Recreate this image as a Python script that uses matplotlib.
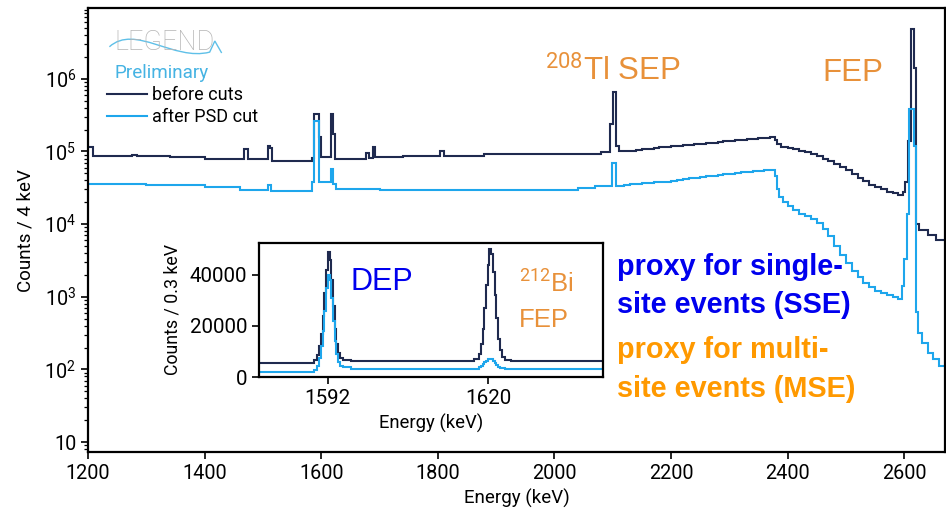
import numpy as np
import matplotlib
matplotlib.use('Agg')
import matplotlib.pyplot as plt
from matplotlib.path import Path
from matplotlib.patches import PathPatch
from matplotlib.ticker import FixedLocator, FixedFormatter, LogLocator, NullFormatter

plt.rcParams['font.family'] = ['Roboto', 'DejaVu Sans']
plt.rcParams['mathtext.fontset'] = 'custom'
plt.rcParams['mathtext.rm'] = 'Roboto'
plt.rcParams['mathtext.it'] = 'Roboto'

# ---- main spectrum (counts / 4 keV), step edges in keV ----
main_edges = [1200, 1208, 1276, 1284, 1340, 1400, 1468, 1474, 1508, 1512, 1516,
              1584, 1588, 1596, 1600, 1616, 1620, 1624, 1676, 1682, 1688, 1692,
              1740, 1804, 1810, 1880, 1980, 2080, 2096, 2100, 2106, 2110,
              2120, 2130, 2140, 2150, 2160, 2170, 2180, 2190, 2200, 2210, 2220,
              2230, 2240, 2250, 2260, 2270, 2280, 2290, 2300, 2310, 2320, 2330,
              2340, 2350, 2360, 2370, 2378, 2382, 2388, 2400, 2410, 2420, 2430,
              2440, 2450, 2460, 2470, 2480, 2490, 2500, 2510, 2520, 2530, 2540,
              2550, 2560, 2570, 2580, 2590, 2598, 2602, 2606, 2612, 2616, 2620,
              2626, 2640, 2655, 2670]
before_cuts = [1.15e5, 8.7e4, 9.0e4, 8.6e4, 8.4e4, 8.0e4, 1.07e5, 7.9e4, 1.2e5, 1.1e5,
               7.5e4, 8.1e4, 3.3e5, 1.57e5, 8.4e4, 3.3e5, 1.75e5, 8.0e4, 9.6e4, 8.2e4,
               1.15e5, 8.4e4, 8.6e4, 1.03e5, 8.8e4, 9.1e4, 9.3e4, 9.8e4, 2.4e5, 6.5e5,
               1.2e5,
               1.01e5, 1.02e5, 1.03e5, 1.05e5, 1.07e5, 1.09e5, 1.11e5, 1.14e5, 1.16e5,
               1.18e5, 1.20e5, 1.22e5, 1.24e5, 1.26e5, 1.28e5, 1.31e5, 1.33e5, 1.36e5,
               1.38e5, 1.41e5, 1.43e5, 1.46e5, 1.48e5, 1.50e5, 1.53e5, 1.55e5, 1.56e5,
               1.45e5, 1.25e5, 1.17e5, 1.12e5, 1.08e5, 1.03e5, 9.8e4, 9.2e4, 8.6e4,
               8.0e4, 7.4e4, 6.8e4, 6.1e4, 5.5e4, 4.9e4, 4.3e4, 3.9e4, 3.5e4, 3.2e4,
               3.0e4, 2.8e4, 2.65e4, 2.55e4, 2.8e4, 3.8e4, 1.4e5, 4.9e6, 1.43e6, 1.0e4,
               8.2e3, 7.0e3, 6.0e3]

light_edges = [1200, 1300, 1400, 1460, 1508, 1514, 1584, 1588, 1596, 1616, 1620,
               1626, 1700, 2040, 2070, 2098, 2106,
               2120, 2130, 2140, 2150, 2160, 2170, 2180, 2190, 2200, 2210, 2220,
               2230, 2240, 2250, 2260, 2270, 2280, 2290, 2300, 2310, 2320, 2330,
               2340, 2350, 2360, 2370, 2378, 2382, 2386, 2392, 2400, 2410, 2420,
               2430, 2440, 2450, 2460, 2470, 2480, 2490, 2500, 2510, 2520, 2530,
               2540, 2550, 2560, 2570, 2580, 2590, 2596, 2600, 2604, 2608, 2616,
               2620, 2624, 2630, 2640, 2650, 2660, 2670]
after_psd = [3.6e4, 3.45e4, 3.25e4, 2.95e4, 3.5e4, 2.85e4, 3.8e4, 2.67e5, 3.8e4, 5.8e4,
             3.6e4, 3.05e4, 2.95e4, 3.1e4, 3.3e4, 6.9e4,
             3.4e4, 3.5e4, 3.55e4, 3.6e4, 3.65e4, 3.7e4, 3.75e4, 3.8e4, 3.85e4, 3.95e4,
             4.05e4, 4.15e4, 4.25e4, 4.35e4, 4.45e4, 4.55e4, 4.65e4, 4.75e4, 4.85e4,
             4.95e4, 5.05e4, 5.15e4, 5.25e4, 5.35e4, 5.45e4, 5.55e4, 5.6e4,
             4.6e4, 3.0e4, 2.4e4, 2.0e4, 1.75e4, 1.55e4, 1.4e4, 1.3e4, 1.18e4, 1.05e4,
             8.5e3, 6.8e3, 5.0e3, 3.8e3, 2.9e3, 2.3e3, 1.85e3, 1.55e3, 1.35e3, 1.2e3,
             1.12e3, 1.05e3, 1.0e3, 920, 1.4e3, 3.3e3, 1.4e4, 3.9e5, 1.2e5, 620, 320,
             230, 170, 140, 110]

# ---- inset (counts / 0.3 keV) ----
inset_edges = [1580, 1589.6, 1590.2, 1590.5, 1590.8, 1591.1, 1591.4, 1591.7, 1592.0,
               1592.3, 1592.6, 1592.9, 1593.2, 1593.5, 1593.8, 1594.1, 1594.7, 1596,
               1617.5, 1618.4, 1618.7, 1619.0, 1619.3, 1619.6, 1619.9, 1620.2, 1620.5,
               1620.8, 1621.1, 1621.4, 1621.7, 1622.0, 1622.3, 1622.9, 1624, 1640]
inset_before = [5500, 6500, 8500, 12000, 17000, 24000, 33000, 42000, 49000, 46000,
                38000, 28000, 19000, 13000, 9500, 7500, 6800, 6400, 7000, 9000, 13000,
                19000, 27000, 36000, 44000, 50000, 48000, 41000, 32000, 23000, 15000,
                10500, 8000, 6800, 6300]
inset_after = [2000, 2800, 4500, 7500, 12000, 18000, 26000, 35000, 40000, 38000,
               31000, 22000, 14000, 9000, 6000, 4500, 3800, 3000, 3300, 3800, 4300,
               5000, 5700, 6300, 6900, 7200, 7000, 6400, 5600, 4800, 4100, 3700, 3400,
               3200, 3000]

dark = '#1f2a4f'
light = '#1ea6ec'
orange = '#e8913a'
arial = ['Liberation Sans']

fig = plt.figure(figsize=(9.46, 5.11), dpi=100)
ax = fig.add_axes([0.093, 0.1155, 0.906, 0.8685])

ax.stairs(before_cuts, main_edges, baseline=None, color=dark, lw=1.5, label='before cuts')
ax.stairs(after_psd, light_edges, baseline=None, color=light, lw=1.5, label='after PSD cut')

ax.set_yscale('log')
ax.set_xlim(1200, 2670)
ax.set_ylim(7.3, 9.4e6)
ax.set_xticks([1200, 1400, 1600, 1800, 2000, 2200, 2400, 2600])
ax.yaxis.set_major_locator(FixedLocator([10, 1e2, 1e3, 1e4, 1e5, 1e6]))
ax.yaxis.set_major_formatter(FixedFormatter(['10', r'$10^2$', r'$10^3$', r'$10^4$',
                                             r'$10^5$', r'$10^6$']))
ax.yaxis.set_minor_locator(LogLocator(base=10, subs=np.arange(2, 10)))
ax.yaxis.set_minor_formatter(NullFormatter())
ax.tick_params(axis='both', which='major', labelsize=14.3, length=5, width=1.2)
ax.tick_params(axis='y', which='minor', length=3, width=0.9)
for s in ax.spines.values():
    s.set_linewidth(1.6)
ax.set_xlabel('Energy (keV)', fontsize=13.5)
ax.xaxis.set_label_coords(0.5, -0.082)
ax.set_ylabel('Counts / 4 keV', fontsize=13.5)
ax.yaxis.set_label_coords(-0.062, 0.5)

ax.legend(loc='upper left', bbox_to_anchor=(0.012, 0.845), frameon=False, fontsize=13,
          handlelength=2.2, handletextpad=0.3, labelspacing=0.22, borderpad=0)

# LEGEND logo
ax.text(0.031, 0.893, 'LEGEND', transform=ax.transAxes, fontsize=19.5, color='#b5b5b5',
        fontweight='light', va='bottom')
verts = [(0.025, 0.913), (0.055, 0.965), (0.10, 0.88), (0.142, 0.901),
         (0.148, 0.926), (0.156, 0.899)]
codes = [Path.MOVETO, Path.CURVE4, Path.CURVE4, Path.CURVE4, Path.LINETO, Path.LINETO]
ax.add_patch(PathPatch(Path(verts, codes), transform=ax.transAxes, fill=False,
                       edgecolor='#5fc0e8', lw=1.0))
ax.text(0.031, 0.855, 'Preliminary', transform=ax.transAxes, fontsize=13.6,
        color='#45b3e3', va='center')

# peak labels
ax.text(1984, 9.4e5, r'$^{208}$Tl SEP', fontsize=22.5, color=orange, family=arial)
ax.text(2459, 9.4e5, 'FEP', fontsize=22.5, color=orange, family=arial)

proxy_lines = [('proxy for single-', 0.3986, '#0000ee'),
               ('site events (SSE)', 0.3137, '#0000ee'),
               ('proxy for multi-', 0.211, '#ff9900'),
               ('site events (MSE)', 0.1245, '#ff9900')]
for txt, yy, col in proxy_lines:
    ax.text(0.617, yy, txt, transform=ax.transAxes, fontsize=20.8, fontweight='bold',
            color=col, family=arial, va='baseline')

# inset
axi = fig.add_axes([0.2738, 0.2622, 0.3636, 0.2623])
axi.stairs(inset_before, inset_edges, baseline=None, color=dark, lw=1.5)
axi.stairs(inset_after, inset_edges, baseline=None, color=light, lw=1.5)
axi.set_xlim(1580, 1640)
axi.set_ylim(0, 52500)
axi.set_xticks([1592, 1620])
axi.set_yticks([0, 20000, 40000])
axi.tick_params(axis='both', labelsize=14.8, length=5, width=1.2)
for s in axi.spines.values():
    s.set_linewidth(1.6)
axi.set_xlabel('Energy (keV)', fontsize=13.3)
axi.set_ylabel('Counts / 0.3 keV', fontsize=12.8)
axi.yaxis.set_label_coords(-0.225, 0.5)
axi.text(1596.0, 34000, 'DEP', fontsize=22, color='#0000ee', family=arial)
axi.text(1625.4, 33400, r'$^{212}$Bi', fontsize=18.5, color=orange, family=arial)
axi.text(1625.4, 19500, 'FEP', fontsize=18.5, color=orange, family=arial)

fig.savefig('out.png', dpi=100)
